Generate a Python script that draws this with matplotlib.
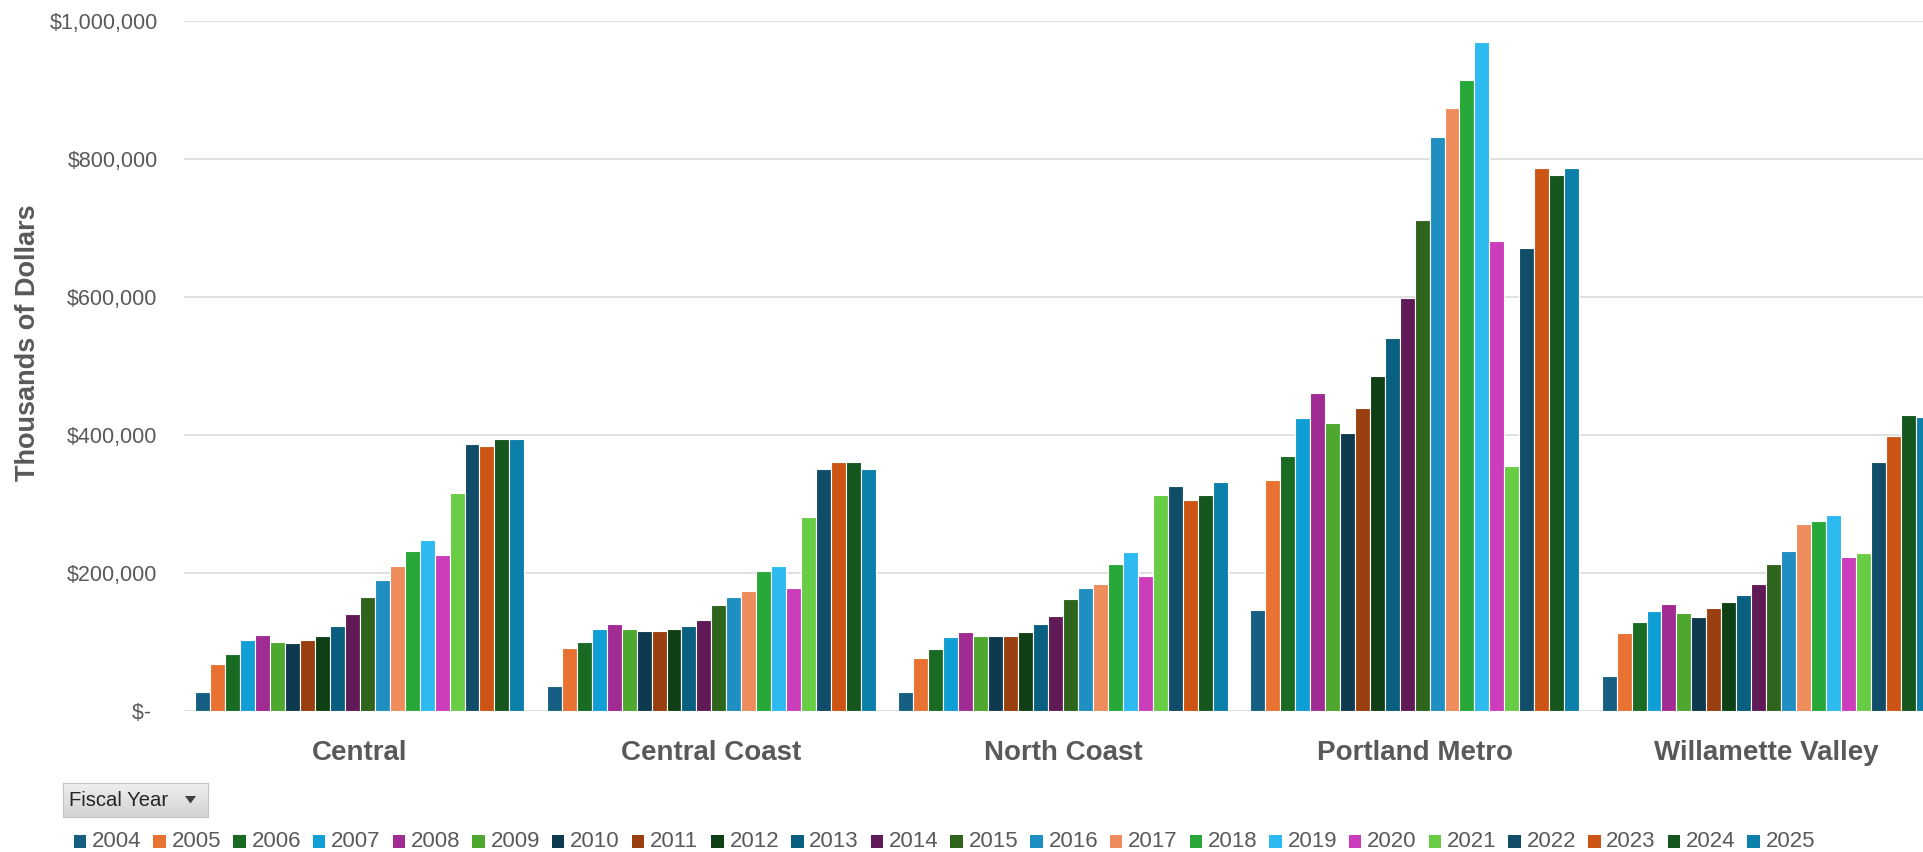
import matplotlib
matplotlib.use('Agg')
import matplotlib.pyplot as plt
from matplotlib import font_manager
from matplotlib.patches import Rectangle, Polygon
from matplotlib.colors import LinearSegmentedColormap
import numpy as np

# ---------------- data (thousands of dollars) ----------------
regions = ["Central", "Central Coast", "North Coast", "Portland Metro", "Willamette Valley"]
years = [str(y) for y in range(2004, 2026)]

central = [27000, 68000, 82000, 103000, 110000, 100000, 98000, 103000, 108000, 123000, 140000,
           164000, 190000, 210000, 231000, 248000, 225000, 315000, 387000, 384000, 393000, 393000]
central_coast = [36000, 91000, 100000, 119000, 126000, 119000, 116000, 116000, 119000, 123000, 132000,
                 153000, 164000, 173000, 202000, 210000, 178000, 280000, 350000, 361000, 361000, 350000]
north_coast = [27000, 76000, 89000, 106000, 114000, 108000, 108000, 108000, 114000, 125000, 137000,
               162000, 178000, 184000, 213000, 230000, 195000, 313000, 325000, 305000, 313000, 331000]
portland_metro = [146000, 334000, 369000, 424000, 461000, 417000, 403000, 438000, 485000, 540000, 598000,
                  711000, 832000, 873000, 914000, 969000, 681000, 354000, 670000, 786000, 777000, 786000]
willamette_valley = [50000, 113000, 128000, 145000, 154000, 142000, 136000, 148000, 157000, 168000, 183000,
                     212000, 232000, 270000, 275000, 284000, 223000, 229000, 360000, 398000, 429000, 426000]

yticks = [0, 200000, 400000, 600000, 800000, 1000000]
ytick_labels = ["$- ", "$200,000", "$400,000", "$600,000", "$800,000", "$1,000,000"]

colors = ['#156082', '#E97132', '#196B24', '#0F9ED5', '#A02B93', '#4EA72E',
          '#0D3A4E', '#9A3F10', '#0F4015', '#095F80', '#601A58', '#2F641C',
          '#1F8EC0', '#EE8D5B', '#27A838', '#2DBAF0', '#CB3DBB', '#69CC45',
          '#114D68', '#CC5516', '#14561D', '#0C7FAA']

series = np.array([central, central_coast, north_coast, portland_metro, willamette_valley]).T  # years x regions

# ---------------- fonts ----------------
names = {f.name for f in font_manager.fontManager.ttflist}
narrow = 'Liberation Sans Narrow' in names
base_font = ['Liberation Sans', 'DejaVu Sans']
label_font = ['Liberation Sans Narrow', 'Liberation Sans', 'DejaVu Sans'] if narrow else base_font
TXT = '#595959'

# ---------------- figure ----------------
W, H = 1923, 852
fig = plt.figure(figsize=(W / 100, H / 100), dpi=100)
fig.patch.set_facecolor('white')


def fx(px):
    return px / W


def fy(py):
    return 1 - py / H


ax_left, ax_right, ax_top, ax_bot = 184, 1942, 20.7, 710.6
ax = fig.add_axes([fx(ax_left), fy(ax_bot), fx(ax_right - ax_left), (ax_bot - ax_top) / H])

n = len(years)
w = 1.0 / (n + 1.5)
x = np.arange(len(regions))
for j in range(n):
    ax.bar(x + (j - (n - 1) / 2) * w, series[j], width=w, color=colors[j],
           edgecolor='white', linewidth=0.8, zorder=3)

ax.set_xlim(-0.5, len(regions) - 0.5)
ax.set_ylim(0, 1000000)
ax.set_yticks(yticks)
ax.set_yticklabels(ytick_labels, fontsize=15.5, color=TXT, family=base_font)
ax.set_xticks(x)
ax.set_xticklabels(regions, fontsize=20, fontweight='bold', color=TXT, family=base_font)
ax.tick_params(axis='y', length=0, pad=19)
ax.tick_params(axis='x', length=0, pad=21)
ax.yaxis.grid(True, color='#D9D9D9', linewidth=1.1, zorder=0)
ax.set_axisbelow(True)
for s in ax.spines.values():
    s.set_visible(False)

# y axis title
fig.text(fx(28), fy(342.5), 'Thousands of Dollars', rotation=90, ha='center', va='center',
         fontsize=23.4 if narrow else 19.5, fontweight='bold', color=TXT, family=label_font)

# ---------------- "Fiscal Year" field button ----------------
bx0, bx1, by0, by1 = 62.5, 207.6, 782.7, 816.7
bax = fig.add_axes([fx(bx0), fy(by1), fx(bx1 - bx0), (by1 - by0) / H])
cmap = LinearSegmentedColormap.from_list('btn', ['#EFEFEF', '#D3D3D3'])
bax.imshow(np.linspace(0, 1, 64).reshape(-1, 1), cmap=cmap, aspect='auto', extent=[0, 1, 0, 1])
bax.set_xticks([])
bax.set_yticks([])
for s in bax.spines.values():
    s.set_color('#C4C4C4')
    s.set_linewidth(0.8)
fig.text(fx(69), fy(801), 'Fiscal Year', ha='left', va='center', fontsize=14.6,
         color='#262626', family=base_font)
fig.add_artist(Polygon([[fx(185), fy(796)], [fx(196), fy(796)], [fx(190.5), fy(803.5)]],
                       closed=True, transform=fig.transFigure, facecolor='#404040', edgecolor='none'))

# ---------------- legend ----------------
for j, yr in enumerate(years):
    x0 = 73.7 + 79.7 * j
    fig.add_artist(Rectangle((fx(x0), fy(848.3)), fx(12.5), 13.3 / H, transform=fig.transFigure,
                             facecolor=colors[j], edgecolor='none'))
    fig.text(fx(x0 + 18.3), fy(841.5), yr, ha='left', va='center', fontsize=16,
             color=TXT, family=base_font)

fig.savefig('out.png', dpi=100, facecolor='white')
